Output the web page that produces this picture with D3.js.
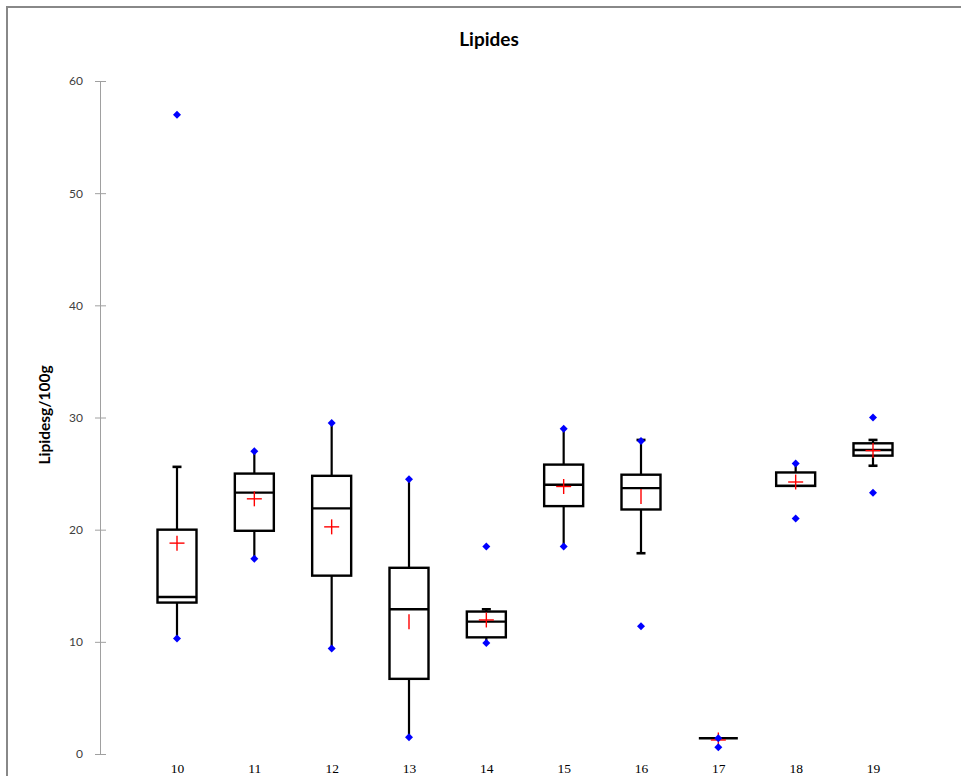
<!DOCTYPE html>
<html>
<head>
<meta charset="utf-8">
<script src="https://cdn.jsdelivr.net/npm/d3@7"></script>
<style>
  html, body { margin: 0; padding: 0; background: #fff; }
  svg { display: block; }
</style>
</head>
<body>
<svg id="chart" width="961" height="776"></svg>
<script>
// ---- data ----
const title = "Lipides";
const yAxisLabel = "Lipidesg/100g";
const categories = ["10", "11", "12", "13", "14", "15", "16", "17", "18", "19"];
const q1Values     = [13.5, 19.9, 15.9, 6.7, 10.4, 22.1, 21.8, 1.4, 23.9, 26.6];
const medianValues = [14.0, 23.3, 21.9, 12.9, 11.8, 24.0, 23.7, 1.4, 23.9, 27.1];
const q3Values     = [20.0, 25.0, 24.8, 16.6, 12.7, 25.8, 24.9, 1.4, 25.1, 27.7];
const whiskerLow   = [10.3, 17.4, 9.4, 1.5, 9.9, 18.5, 17.9, 1.4, 23.9, 25.7];
const whiskerHigh  = [25.6, 27.0, 29.5, 24.5, 12.9, 29.0, 28.0, 1.4, 25.9, 28.0];
const meanValues   = [18.8, 22.75, 20.25, 11.8, 11.95, 23.85, 22.95, 1.25, 24.25, 27.05];
const pointValues  = [
  [10.3, 57.0],
  [17.4, 27.0],
  [9.4, 29.5],
  [1.5, 24.5],
  [9.9, 18.5],
  [18.5, 29.0],
  [11.4, 27.9],
  [0.6, 1.4],
  [21.0, 25.9],
  [23.3, 30.0]
];
const yTicks = [0, 10, 20, 30, 40, 50, 60];

// ---- layout ----
const svg = d3.select("#chart");
const y = d3.scaleLinear().domain([0, 60]).range([754, 81]);
const x = d3.scalePoint().domain(categories).range([177, 873]);
const boxW = 39, capW = 9, crossH = 7.5;
const meanBarHidden = new Set(["13", "16"]);

// frame
svg.append("line").attr("x1", 6).attr("x2", 961).attr("y1", 7).attr("y2", 7)
  .attr("stroke", "#888").attr("stroke-width", 2);
svg.append("line").attr("x1", 7).attr("x2", 7).attr("y1", 6).attr("y2", 776)
  .attr("stroke", "#888").attr("stroke-width", 2);

// title
svg.append("text").attr("x", 489).attr("y", 46).attr("text-anchor", "middle")
  .style("font-family", "Lato, 'Open Sans', sans-serif").style("font-weight", 700)
  .style("font-size", "19px").attr("fill", "#000").text(title);

// y axis
const yAxis = d3.axisLeft(y).tickValues(yTicks).tickSize(5).tickPadding(12).tickFormat(d3.format("d"));
const gy = svg.append("g").attr("transform", "translate(100,0)").call(yAxis);
gy.select(".domain").attr("stroke", "#a0a0a0").attr("d", `M0.5,${y(60)}V${y(0)}`);
gy.selectAll(".tick line").attr("stroke", "#a0a0a0").attr("x1", 6).attr("x2", -5);
gy.selectAll(".tick text").style("font-family", "Lato, 'Open Sans', sans-serif")
  .style("font-size", "12px").attr("fill", "#404040");

// y axis label
svg.append("text").attr("transform", "translate(50,415) rotate(-90)")
  .attr("text-anchor", "middle")
  .style("font-family", "Lato, 'Open Sans', sans-serif").style("font-weight", 700)
  .style("font-size", "15.5px").attr("fill", "#000").text(yAxisLabel);

// x axis labels (no line)
const xAxis = d3.axisBottom(x).tickSize(0).tickPadding(0);
const gx = svg.append("g").attr("transform", "translate(0,763)").call(xAxis);
gx.select(".domain").remove();
gx.selectAll(".tick text").style("font-family", "'Liberation Serif', 'DejaVu Serif', serif")
  .style("font-size", "13.5px").attr("fill", "#000").attr("dy", "0.71em");

// boxes
const data = categories.map((c, i) => ({
  c, q1: q1Values[i], med: medianValues[i], q3: q3Values[i],
  lo: whiskerLow[i], hi: whiskerHigh[i], mean: meanValues[i], pts: pointValues[i]
}));

const g = svg.append("g");
const grp = g.selectAll("g.box").data(data).join("g").attr("class", "box");

// whiskers
grp.filter(d => d.hi > d.q3).append("line")
  .attr("x1", d => x(d.c)).attr("x2", d => x(d.c))
  .attr("y1", d => y(d.q3)).attr("y2", d => y(d.hi))
  .attr("stroke", "#000").attr("stroke-width", 2.2);
grp.filter(d => d.lo < d.q1).append("line")
  .attr("x1", d => x(d.c)).attr("x2", d => x(d.c))
  .attr("y1", d => y(d.q1)).attr("y2", d => y(d.lo))
  .attr("stroke", "#000").attr("stroke-width", 2.2);

// caps where the whisker end is not a marked point
const hasPt = (d, v) => d.pts.some(p => Math.abs(p - v) < 0.05);
grp.filter(d => d.hi > d.q3 && !hasPt(d, d.hi)).append("line")
  .attr("x1", d => x(d.c) - capW / 2).attr("x2", d => x(d.c) + capW / 2)
  .attr("y1", d => y(d.hi)).attr("y2", d => y(d.hi))
  .attr("stroke", "#000").attr("stroke-width", 2.6);
grp.filter(d => d.lo < d.q1 && !hasPt(d, d.lo)).append("line")
  .attr("x1", d => x(d.c) - capW / 2).attr("x2", d => x(d.c) + capW / 2)
  .attr("y1", d => y(d.lo)).attr("y2", d => y(d.lo))
  .attr("stroke", "#000").attr("stroke-width", 2.6);

// box
grp.append("rect")
  .attr("x", d => x(d.c) - boxW / 2).attr("width", boxW)
  .attr("y", d => y(d.q3)).attr("height", d => Math.max(0, y(d.q1) - y(d.q3)))
  .attr("fill", "#fff").attr("stroke", "#000").attr("stroke-width", 2.4);

// median
grp.append("line")
  .attr("x1", d => x(d.c) - boxW / 2).attr("x2", d => x(d.c) + boxW / 2)
  .attr("y1", d => y(d.med)).attr("y2", d => y(d.med))
  .attr("stroke", "#000").attr("stroke-width", 2.4);

// mean cross
grp.filter(d => !meanBarHidden.has(d.c)).append("line")
  .attr("x1", d => x(d.c) - crossH).attr("x2", d => x(d.c) + crossH)
  .attr("y1", d => y(d.mean)).attr("y2", d => y(d.mean))
  .attr("stroke", "#ff0000").attr("stroke-width", 1.4);
grp.append("line")
  .attr("x1", d => x(d.c)).attr("x2", d => x(d.c))
  .attr("y1", d => y(d.mean) - crossH).attr("y2", d => y(d.mean) + crossH)
  .attr("stroke", "#ff0000").attr("stroke-width", 1.4);

// points
const diamond = d3.symbol().type(d3.symbolSquare).size(32);
grp.selectAll("path.pt").data(d => d.pts.map(v => ({ c: d.c, v }))).join("path")
  .attr("class", "pt")
  .attr("d", diamond)
  .attr("transform", p => `translate(${x(p.c)},${y(p.v)}) rotate(45)`)
  .attr("fill", "#0000ff");
</script>
</body>
</html>
